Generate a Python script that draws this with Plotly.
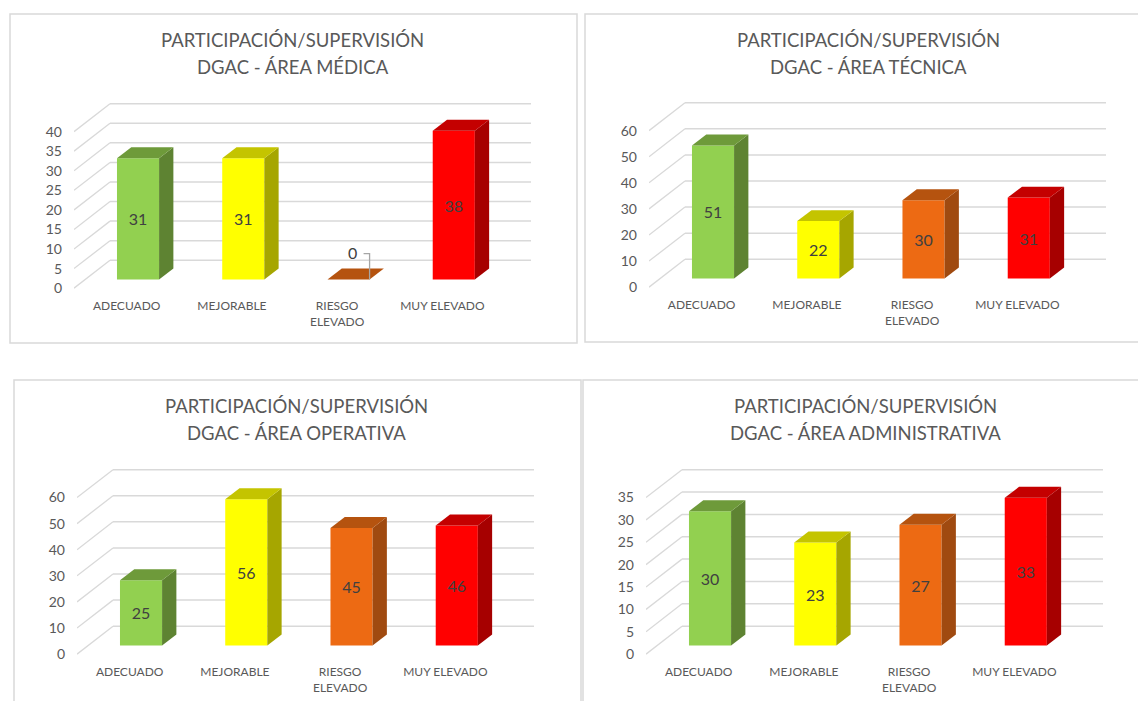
import plotly.graph_objects as go

# ---------- data ----------
categories = ["ADECUADO", "MEJORABLE", "RIESGO<br>ELEVADO", "MUY ELEVADO"]
title_line1 = "PARTICIPACIÓN/SUPERVISIÓN"
title_line2 = ["DGAC - ÁREA MÉDICA", "DGAC - ÁREA TÉCNICA", "DGAC - ÁREA OPERATIVA", "DGAC - ÁREA ADMINISTRATIVA"]
medica = [31, 31, 0, 38]
tecnica = [51, 22, 30, 31]
operativa = [25, 56, 45, 46]
administrativa = [30, 23, 27, 33]
series = [medica, tecnica, operativa, administrativa]
axis_max = [40, 60, 60, 35]
axis_step = [5, 10, 10, 5]

# ---------- style / layout (pixels) ----------
W, H = 1138, 701
front_colors = ["#92D050", "#FFFF00", "#ED6A13", "#FF0000"]
side_colors = ["#5E8332", "#A6A600", "#A04A10", "#A60000"]
top_colors = ["#6E9A3A", "#C4C400", "#B5530F", "#C40000"]
GRID = "#D9D9D9"
TXT = "#595959"
FONT = "Lato"

panel_x0 = [74, 649, 77, 646]
panel_y0 = [289, 288, 656, 656]
title_cx = [293, 868, 296, 865]
title_y1 = [40.5, 40.5, 407.5, 407.5]
TITLE_GAP = 27
borders = [(10, 14, 577, 344), (585, 14, 1145, 343), (14, 381, 581, 710), (583, 381, 1145, 710)]

CAT_PX = 105.25     # px per category
FRONT_H = 157       # px height of value axis
WALL_DX, WALL_DY = 36, 28     # depth of the floor
BAR_W = 0.40        # in categories
BAR_DX, BAR_DY = 14.3, 11     # depth of a bar
BAR_XSHIFT = 11.4   # px: front face shift
BAR_YSHIFT = 8.7    # px: front face lift
PLOT_W = 421 + WALL_DX

fig = go.Figure()
layout_extra = {}
shapes = []
annotations = []

for p, vals in enumerate(series):
    sfx = "" if p == 0 else str(p + 1)
    xa, ya = "x" + sfx, "y" + sfx
    x0, y0 = panel_x0[p], panel_y0[p]
    ymax, step = axis_max[p], axis_step[p]
    scale = FRONT_H / ymax                # px per value unit
    bottom_px = y0 + 6
    top_px = y0 - FRONT_H - WALL_DY - 3

    xr = [-0.5, -0.5 + PLOT_W / CAT_PX]
    yr = [(y0 - bottom_px) / scale, (y0 - top_px) / scale]

    ticks = list(range(0, ymax + 1, step))
    layout_extra["xaxis" + sfx] = dict(
        domain=[x0 / W, (x0 + PLOT_W) / W], range=xr, anchor=ya,
        tickvals=[0, 1, 2, 3], ticktext=categories,
        showgrid=False, zeroline=False, showline=False, ticks="",
        tickfont=dict(family=FONT, size=12, color=TXT), tickangle=0,
        ticklabelstandoff=3,
    )
    layout_extra["yaxis" + sfx] = dict(
        domain=[1 - bottom_px / H, 1 - top_px / H], range=yr, anchor=xa,
        tickvals=ticks, showgrid=False, zeroline=False, showline=False, ticks="",
        tickfont=dict(family=FONT, size=14, color=TXT),
        ticklabelstandoff=11,
    )

    # wall grid lines, one per axis tick
    ddx = WALL_DX / CAT_PX
    ddy = WALL_DY / scale
    for t in ticks:
        shapes.append(dict(type="line", xref=xa, yref=ya, layer="below",
                           x0=-0.5, y0=t, x1=-0.5 + ddx, y1=t + ddy,
                           line=dict(color=GRID, width=1.3)))
        shapes.append(dict(type="line", xref=xa, yref=ya, layer="below",
                           x0=-0.5 + ddx, y0=t + ddy, x1=xr[1], y1=t + ddy,
                           line=dict(color=GRID, width=1.5)))

    # bar geometry in axis units
    xs = BAR_XSHIFT / CAT_PX
    ys = BAR_YSHIFT / scale
    bdx = BAR_DX / CAT_PX
    bdy = BAR_DY / scale
    hw = BAR_W / 2

    # front faces
    fig.add_trace(go.Bar(
        x=[i + xs for i in range(4)], y=vals, base=[ys] * 4, width=BAR_W,
        marker=dict(color=front_colors, line=dict(width=0)),
        text=[str(v) if v else "" for v in vals],
        textposition="inside", insidetextanchor="middle", textangle=0,
        textfont=dict(family=FONT, size=16, color="#404040"),
        xaxis=xa, yaxis=ya, showlegend=False, hoverinfo="skip",
    ))

    for i, v in enumerate(vals):
        cx = i + xs
        l, r = cx - hw, cx + hw
        b, tp = ys, ys + v
        if v:
            fig.add_trace(go.Scatter(
                x=[r, r + bdx, r + bdx, r, r], y=[b, b + bdy, tp + bdy, tp, b],
                mode="lines", fill="toself", fillcolor=side_colors[i],
                line=dict(width=0), xaxis=xa, yaxis=ya, showlegend=False, hoverinfo="skip",
            ))
        fig.add_trace(go.Scatter(
            x=[l, r, r + bdx, l + bdx, l], y=[tp, tp, tp + bdy, tp + bdy, tp],
            mode="lines", fill="toself", fillcolor=top_colors[i],
            line=dict(width=0), xaxis=xa, yaxis=ya, showlegend=False, hoverinfo="skip",
        ))
        if v == 0:
            # label with leader line for an empty bar
            ly = tp + 26 / scale
            fig.add_trace(go.Scatter(
                x=[r - 6 / CAT_PX, r, r], y=[ly, ly, tp],
                mode="lines", line=dict(color="#A6A6A6", width=1.3),
                xaxis=xa, yaxis=ya, showlegend=False, hoverinfo="skip",
            ))
            fig.add_trace(go.Scatter(
                x=[r - 17 / CAT_PX], y=[ly - 1 / scale], mode="text", text=[str(v)],
                textposition="middle center",
                textfont=dict(family=FONT, size=16, color="#404040"),
                xaxis=xa, yaxis=ya, showlegend=False, hoverinfo="skip",
            ))

    # panel title and border
    for k, line in enumerate([title_line1, title_line2[p]]):
        annotations.append(dict(
            text=line, xref="paper", yref="paper",
            x=title_cx[p] / W, y=1 - (title_y1[p] + k * TITLE_GAP) / H,
            xanchor="center", yanchor="middle", showarrow=False, align="center",
            font=dict(family=FONT, size=18.5, color=TXT),
        ))
    bx0, by0, bx1, by1 = borders[p]
    shapes.append(dict(type="rect", xref="paper", yref="paper", layer="below",
                       x0=bx0 / W, x1=bx1 / W, y0=1 - by0 / H, y1=1 - by1 / H,
                       line=dict(color=GRID, width=1.5), fillcolor="rgba(0,0,0,0)"))

fig.update_layout(
    width=W, height=H, autosize=False,
    margin=dict(l=0, r=0, t=0, b=0),
    paper_bgcolor="white", plot_bgcolor="rgba(0,0,0,0)",
    shapes=shapes, annotations=annotations, showlegend=False,
    **layout_extra,
)
fig.write_html("out.html", config={"displayModeBar": False},
               post_script="document.body.style.margin='0';")
